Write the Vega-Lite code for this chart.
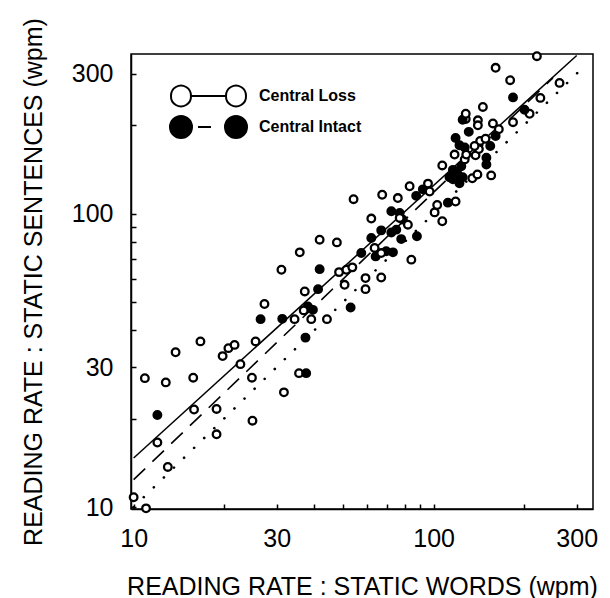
{
  "$schema": "https://vega.github.io/schema/vega-lite/v6.json",
  "autosize": {"type": "none"},
  "padding": {"left": 131, "top": 54, "right": 17, "bottom": 89},
  "width": 462,
  "height": 455,
  "background": "white",
  "config": {
    "font": "Liberation Sans",
    "view": {"stroke": "black", "strokeWidth": 1.5},
    "axis": {
      "grid": false,
      "domainColor": "black",
      "domainWidth": 1.5,
      "tickColor": "black",
      "tickWidth": 1.5,
      "tickSize": -5,
      "labelFont": "Liberation Sans",
      "labelFontSize": 25,
      "labelColor": "black",
      "titleFont": "Liberation Sans",
      "titleFontSize": 25,
      "titleFontWeight": "normal",
      "titleColor": "black",
      "labelOverlap": false,
      "labelFlush": false,
      "labelBound": false
    }
  },
  "datasets": {
    "lines": [
      {"line": "Central Loss fit", "words": 10, "sentences": 14.7},
      {"line": "Central Loss fit", "words": 300, "sentences": 346},
      {"line": "Central Intact fit", "words": 10, "sentences": 12.4},
      {"line": "Central Intact fit", "words": 250, "sentences": 290},
      {"line": "Equality", "words": 10, "sentences": 10},
      {"line": "Equality", "words": 320, "sentences": 320}
    ],
    "points": [
      {"group": "Central Loss", "words": 10.0, "sentences": 10.8},
      {"group": "Central Loss", "words": 11.0, "sentences": 9.9},
      {"group": "Central Loss", "words": 13.0, "sentences": 13.7},
      {"group": "Central Loss", "words": 12.0, "sentences": 16.6},
      {"group": "Central Intact", "words": 12.0, "sentences": 20.6},
      {"group": "Central Loss", "words": 10.9, "sentences": 27.5},
      {"group": "Central Loss", "words": 12.8, "sentences": 26.6},
      {"group": "Central Loss", "words": 13.8, "sentences": 33.7},
      {"group": "Central Loss", "words": 15.8, "sentences": 27.6},
      {"group": "Central Loss", "words": 15.9, "sentences": 21.5},
      {"group": "Central Loss", "words": 16.7, "sentences": 36.7},
      {"group": "Central Loss", "words": 18.9, "sentences": 21.6},
      {"group": "Central Loss", "words": 18.9, "sentences": 17.7},
      {"group": "Central Loss", "words": 19.8, "sentences": 32.7},
      {"group": "Central Loss", "words": 20.7, "sentences": 34.8},
      {"group": "Central Loss", "words": 21.7, "sentences": 35.7},
      {"group": "Central Loss", "words": 22.7, "sentences": 30.7},
      {"group": "Central Loss", "words": 24.8, "sentences": 27.6},
      {"group": "Central Loss", "words": 24.9, "sentences": 19.7},
      {"group": "Central Loss", "words": 25.5, "sentences": 36.7},
      {"group": "Central Loss", "words": 31.7, "sentences": 24.6},
      {"group": "Central Intact", "words": 26.5, "sentences": 43.7},
      {"group": "Central Intact", "words": 31.3, "sentences": 43.8},
      {"group": "Central Loss", "words": 27.3, "sentences": 49.2},
      {"group": "Central Loss", "words": 31.1, "sentences": 64.4},
      {"group": "Central Loss", "words": 34.4, "sentences": 43.7},
      {"group": "Central Loss", "words": 35.6, "sentences": 28.6},
      {"group": "Central Intact", "words": 37.6, "sentences": 28.6},
      {"group": "Central Intact", "words": 37.4, "sentences": 37.8},
      {"group": "Central Loss", "words": 35.8, "sentences": 73.8},
      {"group": "Central Loss", "words": 37.2, "sentences": 54.3},
      {"group": "Central Intact", "words": 38.1, "sentences": 48.3},
      {"group": "Central Intact", "words": 39.6, "sentences": 47.0},
      {"group": "Central Loss", "words": 39.1, "sentences": 43.7},
      {"group": "Central Loss", "words": 36.9, "sentences": 46.8},
      {"group": "Central Intact", "words": 41.2, "sentences": 55.3},
      {"group": "Central Intact", "words": 41.7, "sentences": 64.7},
      {"group": "Central Loss", "words": 41.7, "sentences": 81.5},
      {"group": "Central Loss", "words": 44.1, "sentences": 43.7},
      {"group": "Central Loss", "words": 47.6, "sentences": 79.8},
      {"group": "Central Loss", "words": 48.4, "sentences": 63.2},
      {"group": "Central Loss", "words": 51.2, "sentences": 64.4},
      {"group": "Central Loss", "words": 53.6, "sentences": 65.6},
      {"group": "Central Loss", "words": 50.5, "sentences": 57.2},
      {"group": "Central Intact", "words": 52.9, "sentences": 47.9},
      {"group": "Central Loss", "words": 59.3, "sentences": 60.3},
      {"group": "Central Loss", "words": 59.3, "sentences": 55.3},
      {"group": "Central Loss", "words": 66.9, "sentences": 60.6},
      {"group": "Central Loss", "words": 54.1, "sentences": 112},
      {"group": "Central Loss", "words": 62.0, "sentences": 96.2},
      {"group": "Central Loss", "words": 67.4, "sentences": 116},
      {"group": "Central Loss", "words": 76.0, "sentences": 113},
      {"group": "Central Loss", "words": 83.2, "sentences": 124},
      {"group": "Central Intact", "words": 57.4, "sentences": 73.4},
      {"group": "Central Intact", "words": 62.0, "sentences": 82.6},
      {"group": "Central Intact", "words": 64.1, "sentences": 71.5},
      {"group": "Central Loss", "words": 63.6, "sentences": 76.4},
      {"group": "Central Intact", "words": 66.9, "sentences": 87.7},
      {"group": "Central Intact", "words": 69.5, "sentences": 74.4},
      {"group": "Central Loss", "words": 66.9, "sentences": 73.4},
      {"group": "Central Intact", "words": 73.2, "sentences": 73.8},
      {"group": "Central Intact", "words": 72.3, "sentences": 86.3},
      {"group": "Central Intact", "words": 75.1, "sentences": 88.2},
      {"group": "Central Intact", "words": 78.0, "sentences": 81.9},
      {"group": "Central Intact", "words": 88.0, "sentences": 83.7},
      {"group": "Central Intact", "words": 72.3, "sentences": 101.9},
      {"group": "Central Intact", "words": 77.1, "sentences": 100.5},
      {"group": "Central Intact", "words": 79.0, "sentences": 95.4},
      {"group": "Central Loss", "words": 82.1, "sentences": 91.7},
      {"group": "Central Loss", "words": 84.3, "sentences": 69.7},
      {"group": "Central Loss", "words": 77.1, "sentences": 96.7},
      {"group": "Central Intact", "words": 87.5, "sentences": 115},
      {"group": "Central Intact", "words": 92.1, "sentences": 121},
      {"group": "Central Loss", "words": 95.8, "sentences": 126.6},
      {"group": "Central Loss", "words": 97, "sentences": 119},
      {"group": "Central Loss", "words": 100.8, "sentences": 101},
      {"group": "Central Loss", "words": 102.8, "sentences": 107},
      {"group": "Central Loss", "words": 106.9, "sentences": 94.2},
      {"group": "Central Intact", "words": 111.6, "sentences": 109},
      {"group": "Central Loss", "words": 118.4, "sentences": 110},
      {"group": "Central Loss", "words": 106.9, "sentences": 146},
      {"group": "Central Loss", "words": 117.5, "sentences": 159},
      {"group": "Central Intact", "words": 116, "sentences": 141},
      {"group": "Central Intact", "words": 120.5, "sentences": 136},
      {"group": "Central Intact", "words": 123.7, "sentences": 145},
      {"group": "Central Intact", "words": 116, "sentences": 131},
      {"group": "Central Intact", "words": 122, "sentences": 127},
      {"group": "Central Loss", "words": 127, "sentences": 153},
      {"group": "Central Intact", "words": 118.4, "sentences": 181},
      {"group": "Central Intact", "words": 122, "sentences": 171},
      {"group": "Central Intact", "words": 131, "sentences": 190},
      {"group": "Central Intact", "words": 127, "sentences": 168},
      {"group": "Central Loss", "words": 128.5, "sentences": 159},
      {"group": "Central Loss", "words": 138, "sentences": 158},
      {"group": "Central Loss", "words": 134.6, "sentences": 132},
      {"group": "Central Loss", "words": 140, "sentences": 136},
      {"group": "Central Loss", "words": 141.6, "sentences": 166},
      {"group": "Central Loss", "words": 143, "sentences": 177},
      {"group": "Central Loss", "words": 149, "sentences": 180},
      {"group": "Central Intact", "words": 154.5, "sentences": 170},
      {"group": "Central Intact", "words": 150, "sentences": 155},
      {"group": "Central Intact", "words": 150, "sentences": 147},
      {"group": "Central Loss", "words": 155.6, "sentences": 135},
      {"group": "Central Loss", "words": 128, "sentences": 210},
      {"group": "Central Intact", "words": 125, "sentences": 209},
      {"group": "Central Loss", "words": 128, "sentences": 219},
      {"group": "Central Loss", "words": 140.5, "sentences": 208},
      {"group": "Central Loss", "words": 140.5, "sentences": 200},
      {"group": "Central Loss", "words": 146, "sentences": 231},
      {"group": "Central Loss", "words": 157.7, "sentences": 203},
      {"group": "Central Loss", "words": 161, "sentences": 314},
      {"group": "Central Loss", "words": 221, "sentences": 344},
      {"group": "Central Loss", "words": 180, "sentences": 285},
      {"group": "Central Intact", "words": 184, "sentences": 249},
      {"group": "Central Loss", "words": 184, "sentences": 205},
      {"group": "Central Loss", "words": 209, "sentences": 219},
      {"group": "Central Intact", "words": 201, "sentences": 226},
      {"group": "Central Loss", "words": 227, "sentences": 248},
      {"group": "Central Loss", "words": 263, "sentences": 279},
      {"group": "Central Loss", "words": 165, "sentences": 194},
      {"group": "Central Intact", "words": 161, "sentences": 184},
      {"group": "Central Intact", "words": 113, "sentences": 133},
      {"group": "Central Intact", "words": 125, "sentences": 133},
      {"group": "Central Loss", "words": 137, "sentences": 170}
    ]
  },
  "encoding": {
    "x": {
      "field": "words", "type": "quantitative",
      "scale": {"type": "log", "domain": [9.8, 340], "nice": false},
      "axis": {
        "title": "READING RATE : STATIC WORDS (wpm)",
        "values": [10, 20, 30, 40, 50, 60, 70, 80, 90, 100, 200, 300],
        "labelExpr": "(datum.value == 10 || datum.value == 30 || datum.value == 100 || datum.value == 300) ? format(datum.value, 'd') : ''",
        "labelPadding": 22,
        "titlePadding": 23
      }
    },
    "y": {
      "field": "sentences", "type": "quantitative",
      "scale": {"type": "log", "domain": [9.85, 350], "nice": false},
      "axis": {
        "title": "READING RATE : STATIC SENTENCES (wpm)",
        "values": [10, 20, 30, 40, 50, 60, 70, 80, 90, 100, 200, 300],
        "labelExpr": "(datum.value == 10 || datum.value == 30 || datum.value == 100 || datum.value == 300) ? format(datum.value, 'd') : ''",
        "labelPadding": 23,
        "titlePadding": 25
      }
    }
  },
  "layer": [
    {
      "data": {"name": "lines"},
      "transform": [{"filter": "datum.line == 'Central Loss fit'"}],
      "mark": {"type": "line", "color": "black", "strokeWidth": 1.5, "clip": true}
    },
    {
      "data": {"name": "lines"},
      "transform": [{"filter": "datum.line == 'Central Intact fit'"}],
      "mark": {"type": "line", "color": "black", "strokeWidth": 1.6, "strokeDash": [16, 10], "clip": true}
    },
    {
      "data": {"name": "lines"},
      "transform": [{"filter": "datum.line == 'Equality'"}],
      "mark": {"type": "line", "color": "black", "strokeWidth": 2.6, "strokeDash": [0.1, 14], "strokeCap": "round", "clip": true}
    },
    {
      "data": {"name": "points"},
      "mark": {"type": "point", "shape": "circle", "filled": true, "stroke": "black", "strokeWidth": 2.3, "size": 58, "opacity": 1},
      "encoding": {
        "fill": {
          "field": "group", "type": "nominal",
          "scale": {"domain": ["Central Loss", "Central Intact"], "range": ["white", "black"]},
          "legend": {
            "title": null,
            "orient": "none",
            "legendX": 61.5,
            "legendY": 26,
            "padding": 0,
            "symbolSize": 900,
            "symbolStrokeColor": "black",
            "symbolStrokeWidth": 2,
            "symbolOpacity": 1,
            "labelFont": "Liberation Sans",
            "labelFontSize": 16,
            "labelFontWeight": "bold",
            "labelColor": "black",
            "labelOffset": 34.5,
            "rowPadding": 0,
            "encode": {
              "symbols": {
                "update": {
                  "shape": {"signal": "datum.value === 'Central Loss' ? 'M-2.5,0A0.667,0.667,0,1,0,-1.167,0A0.667,0.667,0,1,0,-2.5,0Z M-1.167,0L1.167,0 M1.167,0A0.667,0.667,0,1,0,2.5,0A0.667,0.667,0,1,0,1.167,0Z' : 'M-2.567,0A0.733,0.733,0,1,0,-1.1,0A0.733,0.733,0,1,0,-2.567,0Z M-0.7,0L0.167,0 M1.1,0A0.733,0.733,0,1,0,2.567,0A0.733,0.733,0,1,0,1.1,0Z'"}
                }
              }
            }
          }
        }
      }
    }
  ]
}
